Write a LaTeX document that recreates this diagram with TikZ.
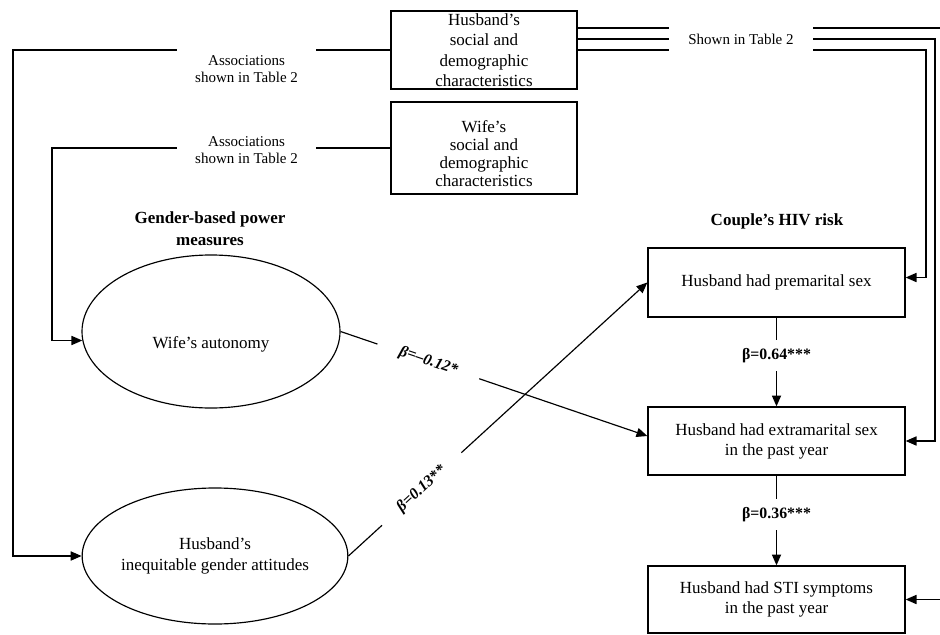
\documentclass[tikz,border=0pt]{standalone}
\usepackage{fontspec}
\setmainfont{Liberation Serif}
\usetikzlibrary{arrows.meta,shapes.geometric}

\begin{document}
\begin{tikzpicture}[x=0.6pt,y=-0.6pt,
  font=\fontsize{10.2}{12}\selectfont,
  box/.style={draw, line width=0.8pt, align=center, inner sep=0pt},
  oval/.style={ellipse, draw, line width=0.7pt, align=center, inner sep=0pt},
  link/.style={line width=0.7pt},
  arr/.style={link, -{Triangle[length=6.5pt,width=5.5pt]}},
  gap/.style={fill=white, align=center, inner ysep=2pt, font=\fontsize{9}{10.2}\selectfont},
  coef/.style={fill=white, font=\fontsize{9.5}{11}\selectfont\bfseries},
  head/.style={align=center, font=\fontsize{10.2}{13}\selectfont\bfseries}]
\useasboundingbox (0,0) rectangle (940,635);
\clip (0,0) rectangle (940,635);

% characteristics
\node [box, minimum width=111.6pt, minimum height=46.8pt, font=\fontsize{10.2}{12.3}\selectfont] (hbox) at (484,50) {Husband’s\\social and\\demographic\\characteristics};
\node [box, minimum width=111.6pt, minimum height=55.2pt, label={[align=center, yshift=-3.6pt, font=\fontsize{10.2}{10.8}\selectfont]center:Wife’s\\social and\\demographic\\characteristics}] (wbox) at (484,148) {};

% power measures
\node [head] (power) at (210,229) {Gender-based power\\measures};
\node [oval, minimum width=154.8pt, minimum height=91.8pt, label={[yshift=-8pt]center:Wife’s autonomy}] (wife) at (211,331.5) {};
\node [oval, minimum width=153.6pt, minimum height=81.6pt, font=\fontsize{10.2}{13}\selectfont] (hatt) at (215,556) {Husband’s\\inequitable gender attitudes};

% HIV risk
\node [head] (risk) at (777,221) {Couple’s HIV risk};
\node [box, minimum width=154.2pt, minimum height=41.4pt] (pre) at (776.5,282.5) {Husband had premarital sex};
\node [box, minimum width=154.2pt, minimum height=40.8pt] (emar) at (776.5,441) {Husband had extramarital sex\\in the past year};
\node [box, minimum width=154.2pt, minimum height=40.2pt] (sti) at (776.5,599.5) {Husband had STI symptoms\\in the past year};

% corners
\coordinate (c1) at (13,50);
\coordinate (c2) at (52,148);
\coordinate (r1) at (941,28);
\coordinate (r2) at (935,39);
\coordinate (r3) at (926,50);

\draw [arr] (hbox.west) -- node [gap, pos=0.381, anchor=north, yshift=2pt, inner ysep=5pt, inner xsep=11pt] {Associations\\shown in Table 2} (c1) |- (hatt.west);
\draw [arr] (wbox.west) -- node [gap, pos=0.425, yshift=-1pt, inner xsep=11pt] {Associations\\shown in Table 2} (c2) |- (wife.184);

\draw [arr] (hbox.east |- r1) -- (r1) |- (sti.east);
\draw [arr] (hbox.east |- r3) -- (r3) |- ([yshift=3pt]pre.east);
\draw [arr] (hbox.east |- r2) -- node [gap, pos=0.457, inner xsep=11.6pt, minimum height=16pt] {Shown in Table 2} (r2) |- (emar.east);

\draw [arr] (wife.east) -- node [coef, sloped, pos=0.286, inner xsep=14pt, font=\fontsize{9.5}{11}\selectfont\bfseries\itshape] {β=–0.12*} ([yshift=3pt]emar.west);
\draw [arr] (hatt.east) -- node [coef, sloped, pos=0.245, inner xsep=14pt, font=\fontsize{9.5}{11}\selectfont\bfseries\itshape] {β=0.13**} (pre.west);

\draw [arr] (pre.south) -- node [coef, pos=0.43, inner ysep=5pt] {β=0.64***} (emar.north);
\draw [arr] (emar.south) -- node [coef, pos=0.43, inner ysep=5pt] {β=0.36***} (sti.north);
\end{tikzpicture}
\end{document}
